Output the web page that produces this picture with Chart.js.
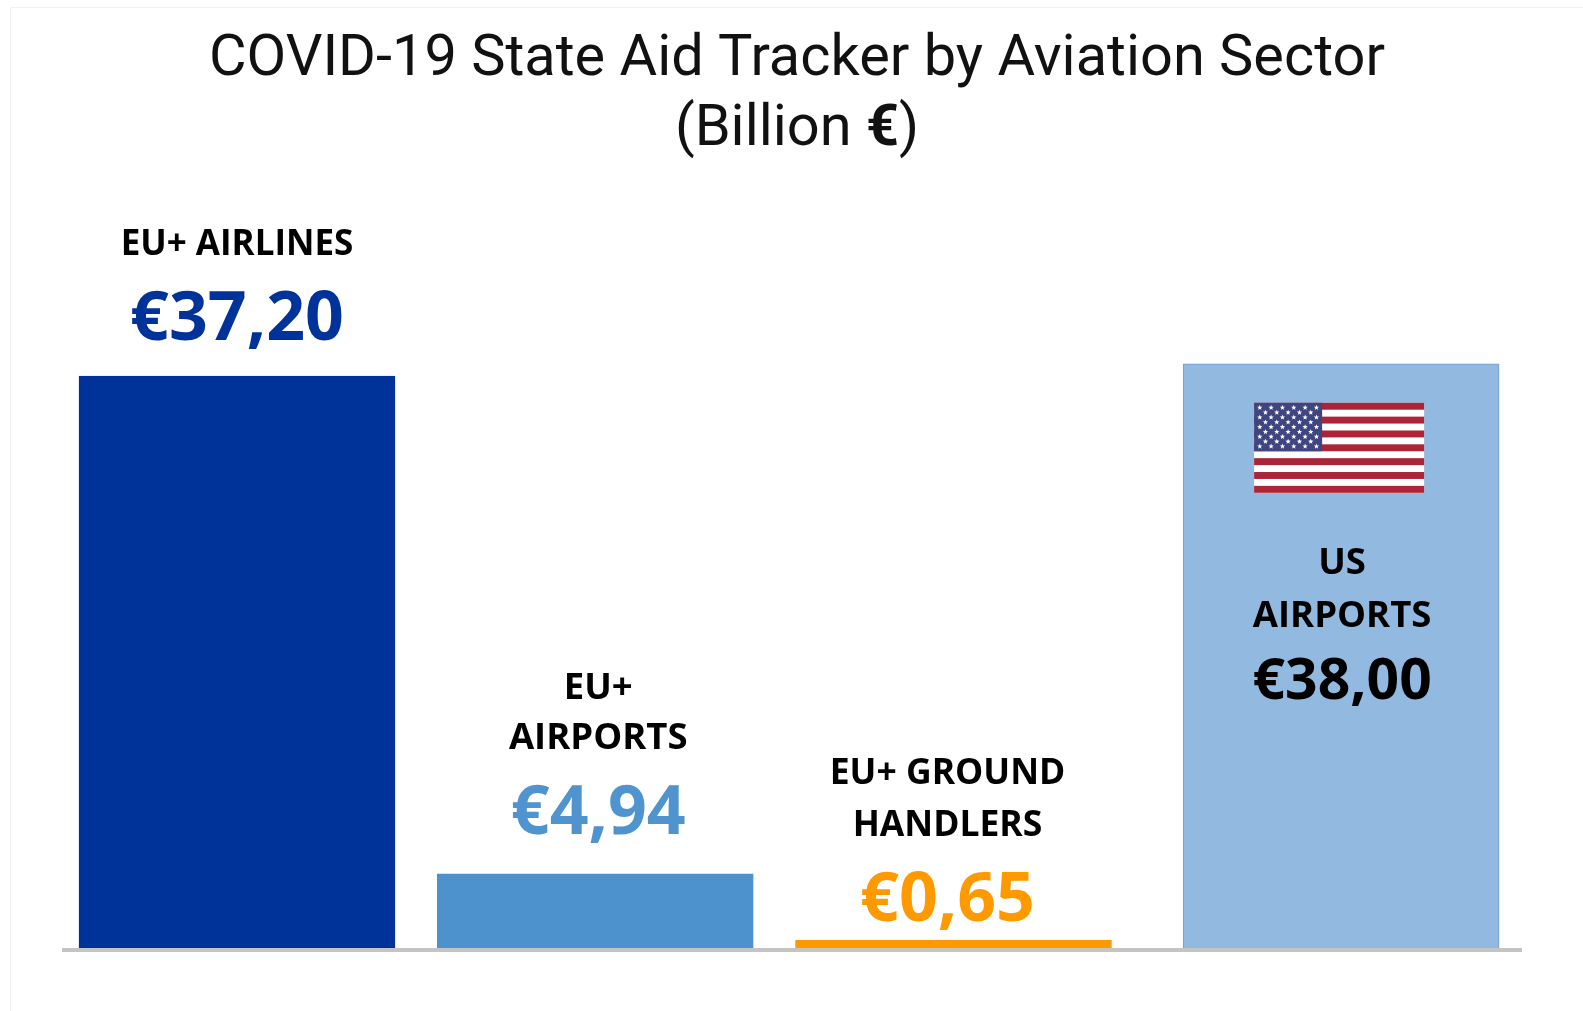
<!DOCTYPE html>
<html>
<head>
<meta charset="utf-8">
<title>COVID-19 State Aid Tracker by Aviation Sector</title>
<script src="https://cdn.jsdelivr.net/npm/chart.js@4/dist/chart.umd.js"></script>
<style>
html,body{margin:0;padding:0;background:#fff;}
#wrap{width:1583px;height:1011px;position:relative;}
canvas{display:block;}
</style>
</head>
<body>
<div id="wrap"><canvas id="c" width="1583" height="1011"></canvas></div>
<script>
const titleLine1 = "COVID-19 State Aid Tracker by Aviation Sector";
const titleLine2 = ["(Billion ", "€", ")"];
const categories = ["EU+ AIRLINES", "EU+ AIRPORTS", "EU+ GROUND HANDLERS", "US AIRPORTS"];
const values = [37.20, 4.94, 0.65, 38.00];
const valueLabels = ["€37,20", "€4,94", "€0,65", "€38,00"];
const slots = [0, 1, 2, 3.082];
const barColors = ["#00339a", "#4d91cd", "#ff9900", "#92bae1"];
const borderColors = ["#00339a", "#4d91cd", "#ff9900", "#6f9fd6"];
const labelColors = ["#00339a", "#4f94cf", "#ff9900", "#000000"];
const labelLines = [["EU+ AIRLINES"], ["EU+", "AIRPORTS"], ["EU+ GROUND", "HANDLERS"], ["US", "AIRPORTS"]];

// Text placement relative to each bar's top, in px
const labelOffsets = [
  {dx: 0,  lines: [-131],       value: -56, nameSize: 35,   valueSize: 68},
  {dx: 3,  lines: [-185, -135], value: -59, nameSize: 36.5, valueSize: 68},
  {dx: -6, lines: [-166, -114], value: -38, nameSize: 35.5, valueSize: 68},
  {dx: 1,  lines: [199.5, 252.5], value: 319, nameSize: 36.5, valueSize: 57}
];

function star(ctx, cx, cy, r) {
  ctx.beginPath();
  for (let i = 0; i < 10; i++) {
    const a = -Math.PI / 2 + i * Math.PI / 5;
    const rr = i % 2 ? r * 0.42 : r;
    ctx.lineTo(cx + rr * Math.cos(a), cy + rr * Math.sin(a));
  }
  ctx.closePath();
  ctx.fill();
}

function drawFlag(ctx, left, top) {
  const w = 170, h = 90, sh = h / 13, cw = 68, ch = sh * 7;
  ctx.fillStyle = "#ffffff";
  ctx.fillRect(left, top, w, h);
  ctx.fillStyle = "#ab2438";
  for (let i = 0; i < 13; i += 2) ctx.fillRect(left, top + i * sh, w, sh);
  ctx.fillStyle = "#3f4580";
  ctx.fillRect(left, top, cw, ch);
  ctx.fillStyle = "#ffffff";
  for (let row = 0; row < 9; row++) {
    const n = row % 2 ? 5 : 6;
    const off = row % 2 ? cw / 6 : cw / 12;
    for (let k = 0; k < n; k++) {
      star(ctx, left + off + k * cw / 6, top + (row + 1) * ch / 10, 2.8);
    }
  }
}

const overlayPlugin = {
  id: "overlay",
  beforeDraw(chart) {
    const ctx = chart.ctx;
    ctx.save();
    ctx.fillStyle = "#f1f1f1";
    ctx.fillRect(10, 7, 1, 1004);
    ctx.fillRect(10, 7, 1573, 1);
    ctx.restore();
  },
  afterDatasetsDraw(chart) {
    const ctx = chart.ctx;
    const xs = chart.scales.x, ys = chart.scales.y;
    ctx.save();
    ctx.textAlign = "left";
    ctx.textBaseline = "alphabetic";
    ctx.fillStyle = "#111111";

    // Title
    ctx.font = "400 58px Roboto";
    const w1 = ctx.measureText(titleLine1).width;
    const targetW = 1176;
    ctx.save();
    ctx.translate(797, 75);
    ctx.scale(targetW / w1, 1);
    ctx.fillText(titleLine1, -w1 / 2, 0);
    ctx.restore();

    const fonts = ["400 58px Roboto", "700 58px Roboto", "400 58px Roboto"];
    let total = 0;
    const ws = titleLine2.map((t, i) => { ctx.font = fonts[i]; const m = ctx.measureText(t).width; total += m; return m; });
    const k = targetW / w1;
    ctx.save();
    ctx.translate(797, 145);
    ctx.scale(k, 1);
    let px = -total / 2;
    titleLine2.forEach((t, i) => { ctx.font = fonts[i]; ctx.fillText(t, px, 0); px += ws[i]; });
    ctx.restore();

    // Bar labels
    ctx.textAlign = "center";
    ctx.textBaseline = "middle";
    categories.forEach((c, i) => {
      const o = labelOffsets[i];
      const x = xs.getPixelForValue(slots[i]) + o.dx;
      const top = ys.getPixelForValue(values[i]);
      ctx.fillStyle = "#000000";
      ctx.font = "700 " + o.nameSize + "px 'Open Sans'";
      labelLines[i].forEach((ln, j) => ctx.fillText(ln, x, top + o.lines[j]));
      ctx.fillStyle = labelColors[i];
      ctx.font = "700 " + o.valueSize + "px 'Open Sans'";
      ctx.fillText(valueLabels[i], x, top + o.value);
    });

    // Flag on the US bar
    const usX = xs.getPixelForValue(slots[3]);
    const usTop = ys.getPixelForValue(values[3]);
    drawFlag(ctx, usX - 87, usTop + 39);
    ctx.restore();
  }
};

new Chart(document.getElementById("c"), {
  type: "bar",
  data: {
    datasets: [{
      label: "State aid (Billion €)",
      data: values.map((v, i) => ({x: slots[i], y: v})),
      backgroundColor: barColors,
      borderColor: borderColors,
      borderWidth: 1,
      barThickness: 316
    }]
  },
  options: {
    responsive: false,
    animation: false,
    layout: {padding: {left: 64, right: 61.5, top: 100, bottom: 61}},
    plugins: {legend: {display: false}, title: {display: false}, tooltip: {enabled: false}},
    scales: {
      x: {
        type: "linear",
        min: -0.4829,
        max: 3.5855,
        offset: false,
        grid: {display: false, drawTicks: false},
        ticks: {display: false},
        border: {display: true, color: "#c4c4c4", width: 4, z: 1}
      },
      y: {
        display: false,
        min: 0,
        max: 55.1
      }
    }
  },
  plugins: [overlayPlugin]
});
</script>
</body>
</html>
